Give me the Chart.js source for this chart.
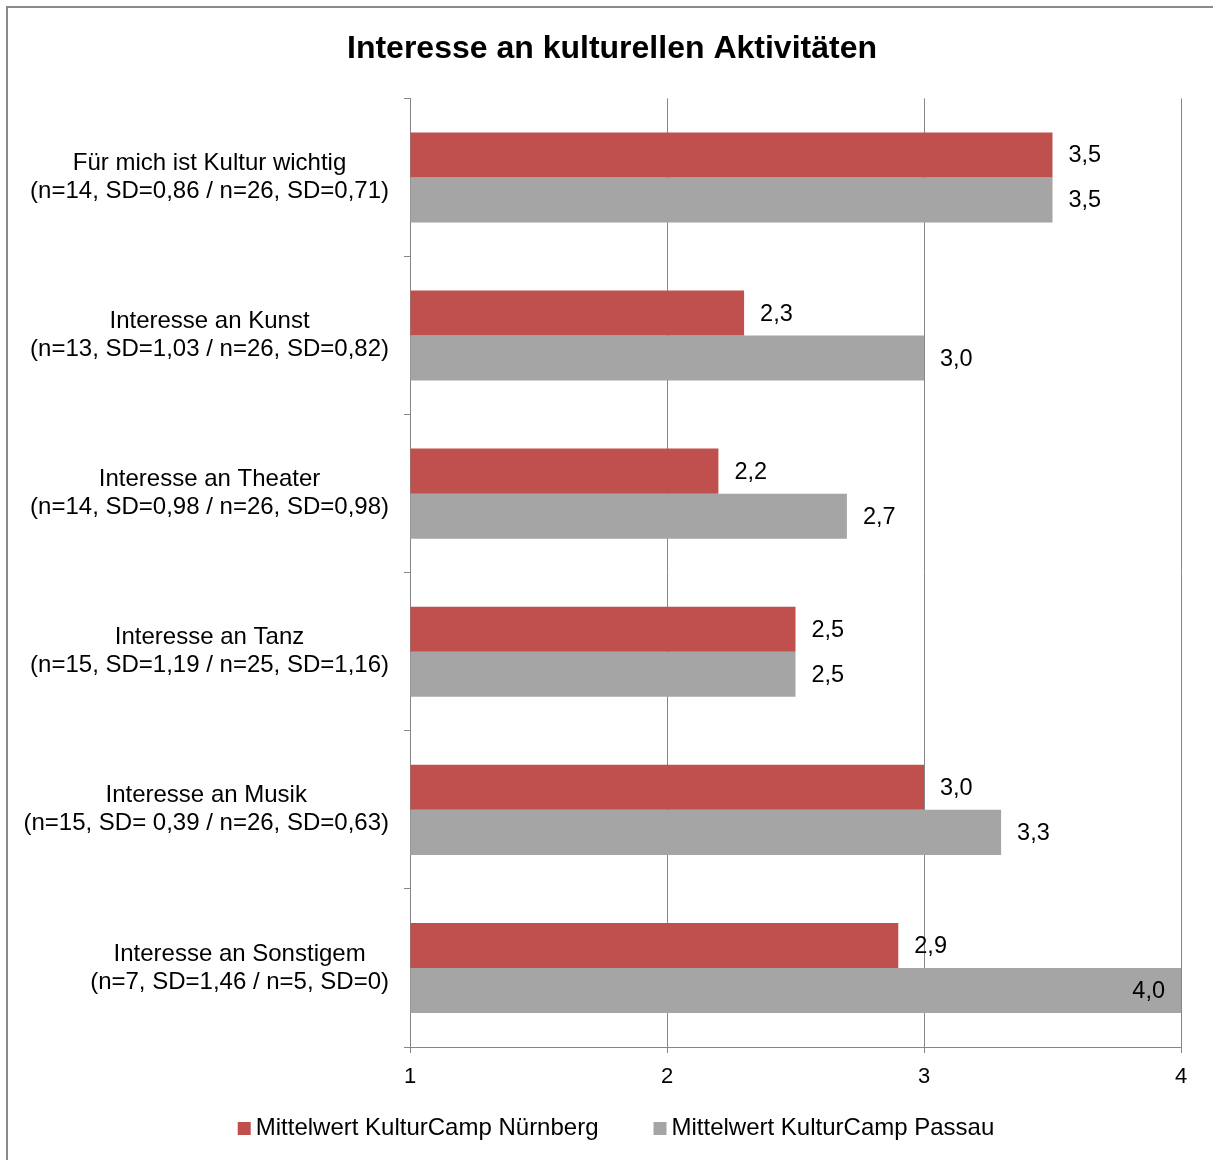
<!DOCTYPE html>
<html lang="de">
<head>
<meta charset="utf-8">
<title>Interesse an kulturellen Aktivitäten</title>
<script src="https://cdn.jsdelivr.net/npm/chart.js@4.4.1/dist/chart.umd.min.js"></script>
<style>
    html, body { margin: 0; padding: 0; background: #fff; }
    #wrap { position: relative; width: 1213px; height: 1160px; overflow: hidden; }
    #wrap canvas { position: absolute; left: 0; top: 0; }
    #frame {
        position: absolute; left: 6px; top: 6px; width: 1230px; height: 1180px;
        border: 2px solid #8a8a8a; box-sizing: border-box; pointer-events: none;
    }
</style>
</head>
<body>
<div id="wrap">
    <canvas id="chartInteresse" width="1213" height="1160"></canvas>
    <div id="frame"></div>
</div>
<script>
// Kategorien (zweizeilig) und Mittelwerte je Camp
const categories = [
    ['Für mich ist Kultur wichtig', '(n=14, SD=0,86 / n=26, SD=0,71)'],
    ['Interesse an Kunst', '(n=13, SD=1,03 / n=26, SD=0,82)'],
    ['Interesse an Theater', '(n=14, SD=0,98 / n=26, SD=0,98)'],
    ['Interesse an Tanz', '(n=15, SD=1,19 / n=25, SD=1,16)'],
    ['Interesse an Musik', '(n=15, SD= 0,39 / n=26, SD=0,63)'],
    ['Interesse an Sonstigem', '(n=7, SD=1,46 / n=5, SD=0)']
];
const seriesNames = ['Mittelwert KulturCamp Nürnberg', 'Mittelwert KulturCamp Passau'];
const nuernberg = [3.5, 2.3, 2.2, 2.5, 3.0, 2.9];
const passau = [3.5, 3.0, 2.7, 2.5, 3.3, 4.0];
const xTicks = [1, 2, 3, 4];

const FONT = "'Liberation Sans', Arial, Helvetica, sans-serif";
const GRID = '#868686';

// Achsenbeschriftung links: zwei Zeilen zueinander zentriert, Block rechtsbündig
const categoryLabels = {
    id: 'categoryLabels',
    afterDraw(chart) {
        const { ctx } = chart;
        const yScale = chart.scales.y;
        const right = yScale.right - 21;
        const lineH = 28;
        ctx.save();
        ctx.font = '24px ' + FONT;
        ctx.fillStyle = '#000';
        ctx.textAlign = 'center';
        ctx.textBaseline = 'middle';
        categories.forEach((lines, i) => {
            const yc = yScale.getPixelForValue(i);
            const widest = Math.max(...lines.map(l => ctx.measureText(l).width));
            const xc = right - widest / 2;
            lines.forEach((line, k) => {
                const y = yc + (k - (lines.length - 1) / 2) * lineH;
                ctx.fillText(line, xc, y);
            });
        });
        ctx.restore();
    }
};

// Werte an den Balkenenden (deutsches Dezimalkomma)
const valueLabels = {
    id: 'valueLabels',
    afterDatasetsDraw(chart) {
        const { ctx, chartArea } = chart;
        ctx.save();
        ctx.font = '23.5px ' + FONT;
        ctx.fillStyle = '#000';
        ctx.textBaseline = 'middle';
        chart.data.datasets.forEach((ds, di) => {
            chart.getDatasetMeta(di).data.forEach((bar, i) => {
                const text = ds.data[i].toFixed(1).replace('.', ',');
                const w = ctx.measureText(text).width;
                let x = bar.x + 16;
                ctx.textAlign = 'left';
                if (x + w > chartArea.right) {
                    x = bar.x - 16;
                    ctx.textAlign = 'right';
                }
                ctx.fillText(text, x, bar.y + 1);
            });
        });
        ctx.restore();
    }
};

// Legende unten: kleines Quadrat dicht am Text, großer Abstand zwischen den Einträgen
const bottomLegend = {
    id: 'bottomLegend',
    afterDraw(chart) {
        const { ctx, chartArea } = chart;
        const box = 13, gap = 5, spacing = 55;
        const y = chartArea.bottom + 81;
        ctx.save();
        ctx.font = '24px ' + FONT;
        ctx.textBaseline = 'middle';
        ctx.textAlign = 'left';
        const items = chart.data.datasets.map(ds => ({
            text: ds.label,
            color: ds.backgroundColor,
            w: ctx.measureText(ds.label).width
        }));
        const total = items.reduce((s, it) => s + box + gap + it.w, 0) + spacing * (items.length - 1);
        let x = 616 - total / 2;
        items.forEach(it => {
            ctx.fillStyle = it.color;
            ctx.fillRect(x, y - 6, box, box);
            ctx.fillStyle = '#000';
            ctx.fillText(it.text, x + box + gap, y);
            x += box + gap + it.w + spacing;
        });
        ctx.restore();
    }
};

new Chart(document.getElementById('chartInteresse'), {
    type: 'bar',
    data: {
        labels: categories,
        datasets: [
            {
                label: seriesNames[0],
                data: nuernberg,
                backgroundColor: '#C0504D',
                base: 1
            },
            {
                label: seriesNames[1],
                data: passau,
                backgroundColor: '#A5A5A5',
                base: 1
            }
        ]
    },
    options: {
        indexAxis: 'y',
        responsive: false,
        animation: false,
        datasets: {
            bar: { categoryPercentage: 0.57, barPercentage: 1.0, borderWidth: 0 }
        },
        layout: { padding: { left: 43, right: 32, top: 0, bottom: 53 } },
        plugins: {
            title: {
                display: true,
                text: 'Interesse an kulturellen Aktivitäten',
                color: '#000',
                font: { family: FONT, size: 32, weight: 'bold' },
                padding: { top: 30, bottom: 30 }
            },
            legend: { display: false },
            tooltip: { enabled: false }
        },
        scales: {
            x: {
                min: 1,
                max: 4,
                afterBuildTicks: scale => { scale.ticks = xTicks.map(v => ({ value: v })); },
                afterFit: scale => { scale.height = 60; },
                grid: { color: GRID, lineWidth: 1, tickLength: 6 },
                border: { color: GRID, width: 1 },
                ticks: {
                    color: '#000',
                    padding: 11,
                    font: { family: FONT, size: 22 }
                }
            },
            y: {
                afterFit: scale => { scale.width = 367; },
                grid: { drawOnChartArea: false, offset: true, color: GRID, tickLength: 6 },
                border: { color: GRID, width: 1 },
                ticks: { display: false }
            }
        }
    },
    plugins: [categoryLabels, valueLabels, bottomLegend]
});
</script>
</body>
</html>
